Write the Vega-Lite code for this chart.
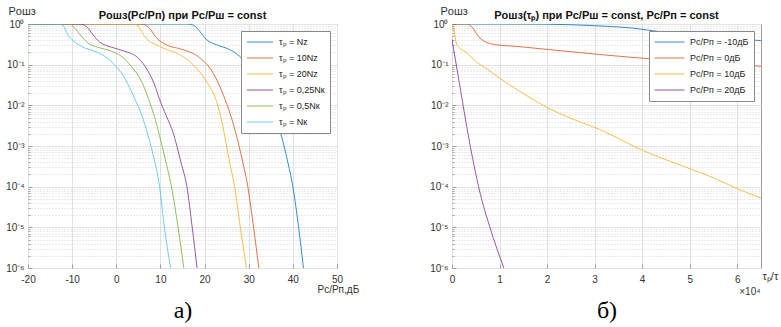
{
  "$schema": "https://vega.github.io/schema/vega-lite/v6.json",
  "padding": {"left": 5, "top": 4, "right": 0, "bottom": 0},
  "config": {
    "font": "Liberation Sans",
    "view": {"stroke": "#9a9a9a", "strokeWidth": 1},
    "axis": {"labelFont": "Liberation Sans", "labelFontSize": 10, "labelColor": "#333333", "titleColor": "#333333", "titleFontWeight": "normal", "labelFlush": false, "labelOverlap": false, "labelBound": false, "tickColor": "#8a8a8a", "tickWidth": 0.8},
    "title": {"fontSize": 11, "fontWeight": "bold", "color": "#111111", "offset": -16, "anchor": "middle"},
    "legend": {"orient": "top-right", "offset": 7, "strokeColor": "#8a8a8a", "fillColor": "white", "padding": 5, "labelFontSize": 9, "labelColor": "#222222", "labelOffset": 5, "symbolType": "stroke", "symbolStrokeWidth": 1, "clipHeight": 12, "rowPadding": 4, "labelLimit": 200}
  },
  "resolve": {"scale": {"color": "independent"}, "legend": {"color": "independent"}},
  "datasets": {
    "left": [
      {"s": "τₚ = Nz", "x": -20, "p": 1}, {"s": "τₚ = Nz", "x": 16, "p": 1}, {"s": "τₚ = Nz", "x": 17.5, "p": 0.93}, {"s": "τₚ = Nz", "x": 18.9, "p": 0.661}, {"s": "τₚ = Nz", "x": 20.4, "p": 0.417}, {"s": "τₚ = Nz", "x": 22.7, "p": 0.309}, {"s": "τₚ = Nz", "x": 25.7, "p": 0.234}, {"s": "τₚ = Nz", "x": 27.9, "p": 0.162}, {"s": "τₚ = Nz", "x": 29.8, "p": 0.1}, {"s": "τₚ = Nz", "x": 32, "p": 0.0447}, {"s": "τₚ = Nz", "x": 34, "p": 0.0158}, {"s": "τₚ = Nz", "x": 36, "p": 0.00501}, {"s": "τₚ = Nz", "x": 37, "p": 0.00251}, {"s": "τₚ = Nz", "x": 38.9, "p": 0.00038}, {"s": "τₚ = Nz", "x": 40, "p": 0.0001}, {"s": "τₚ = Nz", "x": 41.3, "p": 0.00001}, {"s": "τₚ = Nz", "x": 42.4, "p": 0.000001},
      {"s": "τₚ = 10Nz", "x": -20, "p": 1}, {"s": "τₚ = 10Nz", "x": 5.2, "p": 1}, {"s": "τₚ = 10Nz", "x": 6.2, "p": 0.97}, {"s": "τₚ = 10Nz", "x": 7.5, "p": 0.794}, {"s": "τₚ = 10Nz", "x": 9.1, "p": 0.457}, {"s": "τₚ = 10Nz", "x": 11.3, "p": 0.309}, {"s": "τₚ = 10Nz", "x": 15.1, "p": 0.234}, {"s": "τₚ = 10Nz", "x": 18.9, "p": 0.148}, {"s": "τₚ = 10Nz", "x": 21.9, "p": 0.0631}, {"s": "τₚ = 10Nz", "x": 24.2, "p": 0.0186}, {"s": "τₚ = 10Nz", "x": 26.1, "p": 0.0049}, {"s": "τₚ = 10Nz", "x": 27, "p": 0.00224}, {"s": "τₚ = 10Nz", "x": 28.7, "p": 0.00038}, {"s": "τₚ = 10Nz", "x": 29.8, "p": 0.0001}, {"s": "τₚ = 10Nz", "x": 31.1, "p": 0.00001}, {"s": "τₚ = 10Nz", "x": 32.3, "p": 0.000001},
      {"s": "τₚ = 20Nz", "x": -20, "p": 1}, {"s": "τₚ = 20Nz", "x": 3.6, "p": 1}, {"s": "τₚ = 20Nz", "x": 4.5, "p": 0.97}, {"s": "τₚ = 20Nz", "x": 5.3, "p": 0.794}, {"s": "τₚ = 20Nz", "x": 6.0, "p": 0.589}, {"s": "τₚ = 20Nz", "x": 7.5, "p": 0.372}, {"s": "τₚ = 20Nz", "x": 8.3, "p": 0.339}, {"s": "τₚ = 20Nz", "x": 10.6, "p": 0.257}, {"s": "τₚ = 20Nz", "x": 14.3, "p": 0.178}, {"s": "τₚ = 20Nz", "x": 17.4, "p": 0.1}, {"s": "τₚ = 20Nz", "x": 20.4, "p": 0.0389}, {"s": "τₚ = 20Nz", "x": 22.7, "p": 0.0126}, {"s": "τₚ = 20Nz", "x": 24.2, "p": 0.00282}, {"s": "τₚ = 20Nz", "x": 25.7, "p": 0.00038}, {"s": "τₚ = 20Nz", "x": 26.8, "p": 0.0001}, {"s": "τₚ = 20Nz", "x": 28.1, "p": 0.00001}, {"s": "τₚ = 20Nz", "x": 29.5, "p": 0.000001},
      {"s": "τₚ = 0,25Nк", "x": -20, "p": 1}, {"s": "τₚ = 0,25Nк", "x": -8.6, "p": 1}, {"s": "τₚ = 0,25Nк", "x": -7.6, "p": 0.97}, {"s": "τₚ = 0,25Nк", "x": -6.8, "p": 0.871}, {"s": "τₚ = 0,25Nк", "x": -5.3, "p": 0.55}, {"s": "τₚ = 0,25Nк", "x": -3.8, "p": 0.363}, {"s": "τₚ = 0,25Nк", "x": -1.1, "p": 0.269}, {"s": "τₚ = 0,25Nк", "x": 1.9, "p": 0.214}, {"s": "τₚ = 0,25Nк", "x": 4.9, "p": 0.148}, {"s": "τₚ = 0,25Nк", "x": 7.2, "p": 0.0692}, {"s": "τₚ = 0,25Nк", "x": 8.7, "p": 0.0316}, {"s": "τₚ = 0,25Nк", "x": 9.8, "p": 0.0141}, {"s": "τₚ = 0,25Nк", "x": 11.3, "p": 0.00562}, {"s": "τₚ = 0,25Nк", "x": 12.8, "p": 0.00224}, {"s": "τₚ = 0,25Nк", "x": 14.7, "p": 0.00038}, {"s": "τₚ = 0,25Nк", "x": 16, "p": 0.0001}, {"s": "τₚ = 0,25Nк", "x": 17.2, "p": 0.00001}, {"s": "τₚ = 0,25Nк", "x": 18.3, "p": 0.000001},
      {"s": "τₚ = 0,5Nк", "x": -20, "p": 1}, {"s": "τₚ = 0,5Nк", "x": -11.2, "p": 1}, {"s": "τₚ = 0,5Nк", "x": -10.2, "p": 0.97}, {"s": "τₚ = 0,5Nк", "x": -9.4, "p": 0.794}, {"s": "τₚ = 0,5Nк", "x": -7.9, "p": 0.501}, {"s": "τₚ = 0,5Nк", "x": -6.4, "p": 0.339}, {"s": "τₚ = 0,5Nк", "x": -4.2, "p": 0.269}, {"s": "τₚ = 0,5Nк", "x": -1.1, "p": 0.214}, {"s": "τₚ = 0,5Nк", "x": 1.1, "p": 0.162}, {"s": "τₚ = 0,5Nк", "x": 3.4, "p": 0.0912}, {"s": "τₚ = 0,5Nк", "x": 5.7, "p": 0.0389}, {"s": "τₚ = 0,5Nк", "x": 7.5, "p": 0.0126}, {"s": "τₚ = 0,5Nк", "x": 8.7, "p": 0.00501}, {"s": "τₚ = 0,5Nк", "x": 9.8, "p": 0.00178}, {"s": "τₚ = 0,5Nк", "x": 11.3, "p": 0.00038}, {"s": "τₚ = 0,5Nк", "x": 12.5, "p": 0.0001}, {"s": "τₚ = 0,5Nк", "x": 14, "p": 0.00001}, {"s": "τₚ = 0,5Nк", "x": 15.3, "p": 0.000001},
      {"s": "τₚ = Nк", "x": -20, "p": 1}, {"s": "τₚ = Nк", "x": -13.6, "p": 1}, {"s": "τₚ = Nк", "x": -12.6, "p": 0.97}, {"s": "τₚ = Nк", "x": -12, "p": 0.9}, {"s": "τₚ = Nк", "x": -11, "p": 0.55}, {"s": "τₚ = Nк", "x": -9.8, "p": 0.389}, {"s": "τₚ = Nк", "x": -7.9, "p": 0.282}, {"s": "τₚ = Nк", "x": -4.9, "p": 0.214}, {"s": "τₚ = Nк", "x": -2.65, "p": 0.162}, {"s": "τₚ = Nк", "x": -0.4, "p": 0.1}, {"s": "τₚ = Nк", "x": 1.9, "p": 0.0468}, {"s": "τₚ = Nк", "x": 4.1, "p": 0.0151}, {"s": "τₚ = Nк", "x": 6.0, "p": 0.0049}, {"s": "τₚ = Nк", "x": 6.8, "p": 0.00251}, {"s": "τₚ = Nк", "x": 8.3, "p": 0.000631}, {"s": "τₚ = Nк", "x": 9.8, "p": 0.0001}, {"s": "τₚ = Nк", "x": 10.9, "p": 0.00001}, {"s": "τₚ = Nк", "x": 12.3, "p": 0.000001}
    ],
    "right": [
      {"s": "Pc/Pп = -10дБ", "t": 0, "p": 1}, {"s": "Pc/Pп = -10дБ", "t": 10000, "p": 1}, {"s": "Pc/Pп = -10дБ", "t": 15000, "p": 0.997}, {"s": "Pc/Pп = -10дБ", "t": 20000, "p": 0.99}, {"s": "Pc/Pп = -10дБ", "t": 25000, "p": 0.96}, {"s": "Pc/Pп = -10дБ", "t": 30000, "p": 0.91}, {"s": "Pc/Pп = -10дБ", "t": 33000, "p": 0.871}, {"s": "Pc/Pп = -10дБ", "t": 38000, "p": 0.794}, {"s": "Pc/Pп = -10дБ", "t": 44300, "p": 0.63}, {"s": "Pc/Pп = -10дБ", "t": 50000, "p": 0.54}, {"s": "Pc/Pп = -10дБ", "t": 55000, "p": 0.48}, {"s": "Pc/Pп = -10дБ", "t": 60000, "p": 0.43}, {"s": "Pc/Pп = -10дБ", "t": 65000, "p": 0.39},
      {"s": "Pc/Pп = 0дБ", "t": 0, "p": 1}, {"s": "Pc/Pп = 0дБ", "t": 3000, "p": 1}, {"s": "Pc/Pп = 0дБ", "t": 3500, "p": 0.97}, {"s": "Pc/Pп = 0дБ", "t": 4400, "p": 0.794}, {"s": "Pc/Pп = 0дБ", "t": 5500, "p": 0.501}, {"s": "Pc/Pп = 0дБ", "t": 6900, "p": 0.372}, {"s": "Pc/Pп = 0дБ", "t": 9300, "p": 0.309}, {"s": "Pc/Pп = 0дБ", "t": 13500, "p": 0.282}, {"s": "Pc/Pп = 0дБ", "t": 20500, "p": 0.234}, {"s": "Pc/Pп = 0дБ", "t": 31000, "p": 0.178}, {"s": "Pc/Pп = 0дБ", "t": 44300, "p": 0.132}, {"s": "Pc/Pп = 0дБ", "t": 55000, "p": 0.11}, {"s": "Pc/Pп = 0дБ", "t": 65000, "p": 0.0912},
      {"s": "Pc/Pп = 10дБ", "t": 0, "p": 1}, {"s": "Pc/Pп = 10дБ", "t": 400, "p": 0.75}, {"s": "Pc/Pп = 10дБ", "t": 700, "p": 0.45}, {"s": "Pc/Pп = 10дБ", "t": 1000, "p": 0.31}, {"s": "Pc/Pп = 10дБ", "t": 1500, "p": 0.26}, {"s": "Pc/Pп = 10дБ", "t": 3000, "p": 0.2}, {"s": "Pc/Pп = 10дБ", "t": 5000, "p": 0.12}, {"s": "Pc/Pп = 10дБ", "t": 7500, "p": 0.076}, {"s": "Pc/Pп = 10дБ", "t": 10000, "p": 0.0468}, {"s": "Pc/Pп = 10дБ", "t": 15000, "p": 0.0195}, {"s": "Pc/Pп = 10дБ", "t": 20000, "p": 0.0089}, {"s": "Pc/Pп = 10дБ", "t": 25000, "p": 0.0048}, {"s": "Pc/Pп = 10дБ", "t": 31000, "p": 0.00257}, {"s": "Pc/Pп = 10дБ", "t": 40000, "p": 0.00079}, {"s": "Pc/Pп = 10дБ", "t": 48000, "p": 0.00034}, {"s": "Pc/Pп = 10дБ", "t": 55000, "p": 0.000165}, {"s": "Pc/Pп = 10дБ", "t": 60000, "p": 0.0000891}, {"s": "Pc/Pп = 10дБ", "t": 65000, "p": 0.0000525},
      {"s": "Pc/Pп = 20дБ", "t": 0, "p": 0.42}, {"s": "Pc/Pп = 20дБ", "t": 800, "p": 0.117}, {"s": "Pc/Pп = 20дБ", "t": 1600, "p": 0.0324}, {"s": "Pc/Pп = 20дБ", "t": 3400, "p": 0.0019}, {"s": "Pc/Pп = 20дБ", "t": 4400, "p": 0.000457}, {"s": "Pc/Pп = 20дБ", "t": 6000, "p": 0.000063}, {"s": "Pc/Pп = 20дБ", "t": 7900, "p": 0.0000107}, {"s": "Pc/Pп = 20дБ", "t": 10900, "p": 0.000001}
    ]
  },
  "spacing": 69,
  "hconcat": [
    {
      "width": 309,
      "height": 244,
      "title": {"text": "Pошз(Pc/Pп) при Pc/Pш = const"},
      "data": {"name": "left"},
      "layer": [
        {
          "mark": {"type": "line", "strokeWidth": 1, "opacity": 0.8, "interpolate": "monotone", "clip": true},
          "encoding": {
            "x": {"field": "x", "type": "quantitative", "scale": {"domain": [-20, 50], "nice": false, "zero": false},
              "axis": {"values": [-20, -10, 0, 10, 20, 30, 40, 50], "labelExpr": "replace(datum.label, '−', '-')", "grid": true, "gridColor": "#e2e2e2", "domain": false, "ticks": true, "tickSize": -4, "labelPadding": 10,
                "title": "Pc/Pп,дБ", "titleFontSize": 10, "titleX": 289, "titleY": 21, "titleAlign": "left", "titleBaseline": "middle"}},
            "y": {"field": "p", "type": "quantitative", "scale": {"type": "log", "domain": [0.000001, 1], "nice": false},
              "axis": {"values": [0.000001, 0.000002, 0.000003, 0.000004, 0.000005, 0.000006, 0.000007, 0.000008, 0.000009, 0.00001, 0.00002, 0.00003, 0.00004, 0.00005, 0.00006, 0.00007, 0.00008, 0.00009, 0.0001, 0.0002, 0.0003, 0.0004, 0.0005, 0.0006, 0.0007, 0.0008, 0.0009, 0.001, 0.002, 0.003, 0.004, 0.005, 0.006, 0.007, 0.008, 0.009, 0.01, 0.02, 0.03, 0.04, 0.05, 0.06, 0.07, 0.08, 0.09, 0.1, 0.2, 0.3, 0.4, 0.5, 0.6, 0.7, 0.8, 0.9, 1],
                "labelExpr": "abs(log(datum.value)/LN10 - round(log(datum.value)/LN10)) < 0.01 ? '10' + ['⁰','⁻¹','⁻²','⁻³','⁻⁴','⁻⁵','⁻⁶'][-round(log(datum.value)/LN10)] : ''",
                "grid": true,
                "gridColor": {"condition": {"test": "abs(log(datum.value)/LN10 - round(log(datum.value)/LN10)) < 0.01", "value": "#e2e2e2"}, "value": "#d6d6d6"},
                "gridDash": {"condition": {"test": "abs(log(datum.value)/LN10 - round(log(datum.value)/LN10)) < 0.01", "value": []}, "value": [1, 2]},
                "domain": false, "ticks": true,
                "tickSize": {"condition": {"test": "abs(log(datum.value)/LN10 - round(log(datum.value)/LN10)) < 0.01", "value": -4}, "value": -2},
                "labelPadding": 8,
                "title": "Pошз", "titleFontSize": 11, "titleAngle": 0, "titleX": -20, "titleY": -13, "titleAlign": "left", "titleBaseline": "middle"}},
            "color": {"field": "s", "type": "nominal", "title": null,
              "scale": {"domain": ["τₚ = Nz", "τₚ = 10Nz", "τₚ = 20Nz", "τₚ = 0,25Nк", "τₚ = 0,5Nк", "τₚ = Nк"], "range": ["#0072BD", "#D95319", "#EDB120", "#7E2F8E", "#77AC30", "#4DBEEE"]},
              "legend": {"symbolSize": 680, "orient": "top-right"}}
          }
        },
        {
          "mark": {"type": "line", "opacity": 0},
          "encoding": {
            "x": {"field": "x", "type": "quantitative",
              "axis": {"orient": "bottom", "domain": false, "ticks": false, "labels": false, "grid": false,
                "title": "а)", "titleFont": "Liberation Serif", "titleFontSize": 24, "titleColor": "#000000", "titleX": 154.5, "titleY": 42, "titleAlign": "center", "titleBaseline": "middle"}},
            "y": {"field": "p", "type": "quantitative", "axis": null},
            "detail": {"field": "s"}
          }
        }
      ],
      "resolve": {"axis": {"x": "independent", "y": "independent"}}
    },
    {
      "width": 309,
      "height": 244,
      "title": {"text": "Pошз(τₚ) при Pc/Pш = const, Pc/Pп = const"},
      "data": {"name": "right"},
      "layer": [
        {
          "mark": {"type": "line", "strokeWidth": 1, "opacity": 0.8, "interpolate": "monotone", "clip": true},
          "encoding": {
            "x": {"field": "t", "type": "quantitative", "scale": {"domain": [0, 65000], "nice": false, "zero": false},
              "axis": {"values": [0, 10000, 20000, 30000, 40000, 50000, 60000], "labelExpr": "datum.value / 10000", "grid": true, "gridColor": "#e2e2e2", "domain": false, "ticks": true, "tickSize": -4, "labelPadding": 10,
                "title": "τₚ/τ", "titleFontSize": 11, "titleX": 310, "titleY": 8, "titleAlign": "left", "titleBaseline": "middle"}},
            "y": {"field": "p", "type": "quantitative", "scale": {"type": "log", "domain": [0.000001, 1], "nice": false},
              "axis": {"values": [0.000001, 0.000002, 0.000003, 0.000004, 0.000005, 0.000006, 0.000007, 0.000008, 0.000009, 0.00001, 0.00002, 0.00003, 0.00004, 0.00005, 0.00006, 0.00007, 0.00008, 0.00009, 0.0001, 0.0002, 0.0003, 0.0004, 0.0005, 0.0006, 0.0007, 0.0008, 0.0009, 0.001, 0.002, 0.003, 0.004, 0.005, 0.006, 0.007, 0.008, 0.009, 0.01, 0.02, 0.03, 0.04, 0.05, 0.06, 0.07, 0.08, 0.09, 0.1, 0.2, 0.3, 0.4, 0.5, 0.6, 0.7, 0.8, 0.9, 1],
                "labelExpr": "abs(log(datum.value)/LN10 - round(log(datum.value)/LN10)) < 0.01 ? '10' + ['⁰','⁻¹','⁻²','⁻³','⁻⁴','⁻⁵','⁻⁶'][-round(log(datum.value)/LN10)] : ''",
                "grid": true,
                "gridColor": {"condition": {"test": "abs(log(datum.value)/LN10 - round(log(datum.value)/LN10)) < 0.01", "value": "#e2e2e2"}, "value": "#d6d6d6"},
                "gridDash": {"condition": {"test": "abs(log(datum.value)/LN10 - round(log(datum.value)/LN10)) < 0.01", "value": []}, "value": [1, 2]},
                "domain": false, "ticks": true,
                "tickSize": {"condition": {"test": "abs(log(datum.value)/LN10 - round(log(datum.value)/LN10)) < 0.01", "value": -4}, "value": -2},
                "labelPadding": 8,
                "title": "Pошз", "titleFontSize": 11, "titleAngle": 0, "titleX": -12, "titleY": -13, "titleAlign": "left", "titleBaseline": "middle"}},
            "color": {"field": "s", "type": "nominal", "title": null,
              "scale": {"domain": ["Pc/Pп = -10дБ", "Pc/Pп = 0дБ", "Pc/Pп = 10дБ", "Pc/Pп = 20дБ"], "range": ["#0072BD", "#D95319", "#EDB120", "#7E2F8E"]},
              "legend": {"symbolSize": 900, "orient": "top-right"}}
          }
        },
        {
          "mark": {"type": "line", "opacity": 0},
          "encoding": {
            "x": {"field": "t", "type": "quantitative",
              "axis": {"orient": "bottom", "domain": false, "ticks": false, "labels": false, "grid": false,
                "title": "б)", "titleFont": "Liberation Serif", "titleFontSize": 24, "titleColor": "#000000", "titleX": 154.5, "titleY": 42, "titleAlign": "center", "titleBaseline": "middle"}},
            "y": {"field": "p", "type": "quantitative",
              "axis": {"orient": "right", "domain": false, "ticks": false, "labels": false, "grid": false,
                "title": "×10⁴", "titleFontSize": 10, "titleAngle": 0, "titleX": -1, "titleY": 267, "titleAlign": "right", "titleBaseline": "middle"}},
            "detail": {"field": "s"}
          }
        }
      ],
      "resolve": {"axis": {"x": "independent", "y": "independent"}}
    }
  ]
}
